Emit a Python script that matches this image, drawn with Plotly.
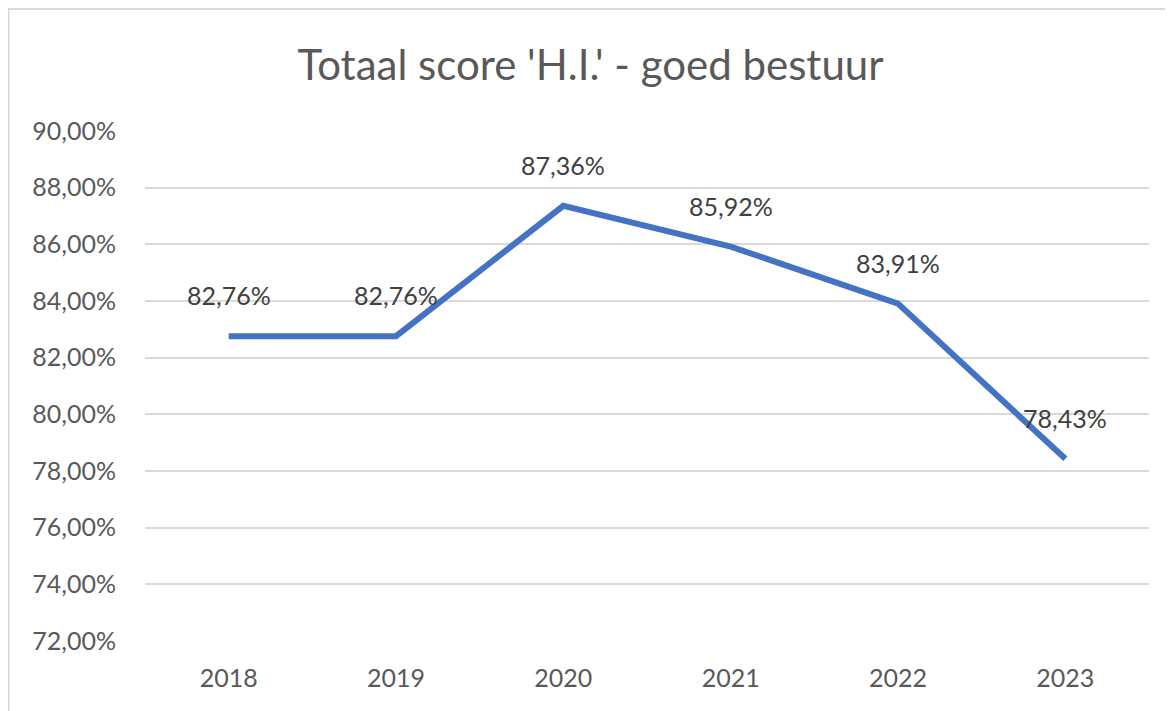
import plotly.graph_objects as go

years = ["2018", "2019", "2020", "2021", "2022", "2023"]
scores = [0.8276, 0.8276, 0.8736, 0.8592, 0.8391, 0.7843]
title_text = "Totaal score 'H.I.' - goed bestuur"
y_ticks = [0.72, 0.74, 0.76, 0.78, 0.80, 0.82, 0.84, 0.86, 0.88, 0.90]

FONT = "Lato, 'Noto Sans', sans-serif"
W, H = 1165, 703
L, R, T, B = 137, 24, 123, 70
pw = W - L - R
ph = H - T - B

fig = go.Figure()
fig.add_trace(go.Scatter(
    x=years, y=scores, mode="lines",
    line=dict(color="#4472C4", width=6),
    hoverinfo="skip", showlegend=False,
))

for i, v in enumerate(scores):
    fig.add_annotation(
        x=i, y=v, xref="x", yref="y",
        text=f"{v*100:.2f}%".replace(".", ","),
        showarrow=False, yshift=41,
        font=dict(family=FONT, size=25, color="#404040"),
    )

fig.add_shape(
    type="rect", xref="paper", yref="paper",
    x0=(0.5 - L) / pw, x1=1.2, y0=-0.3, y1=(ph + T - 1) / ph,
    line=dict(color="#D9D9D9", width=2), fillcolor="rgba(0,0,0,0)",
    layer="below",
)

fig.update_layout(
    width=W, height=H,
    margin=dict(l=L, r=R, t=T, b=B),
    paper_bgcolor="white", plot_bgcolor="white",
    separators=",.",
    title=dict(text=title_text, x=0.5, xanchor="center", y=1 - 57 / H, yanchor="middle",
               font=dict(family=FONT, size=42, color="#595959")),
    xaxis=dict(type="category", range=[-0.5, 5.5], showgrid=False, zeroline=False,
               showline=False, ticks="", ticklabelstandoff=20,
               tickfont=dict(family=FONT, size=25, color="#595959")),
    yaxis=dict(range=[0.72, 0.90], tickvals=y_ticks, tickformat=".2%",
               showgrid=True, gridcolor="#D9D9D9", gridwidth=2, zeroline=False,
               showline=False, ticks="", ticklabelstandoff=28,
               tickfont=dict(family=FONT, size=25, color="#595959")),
)

fig.write_html("out.html")
